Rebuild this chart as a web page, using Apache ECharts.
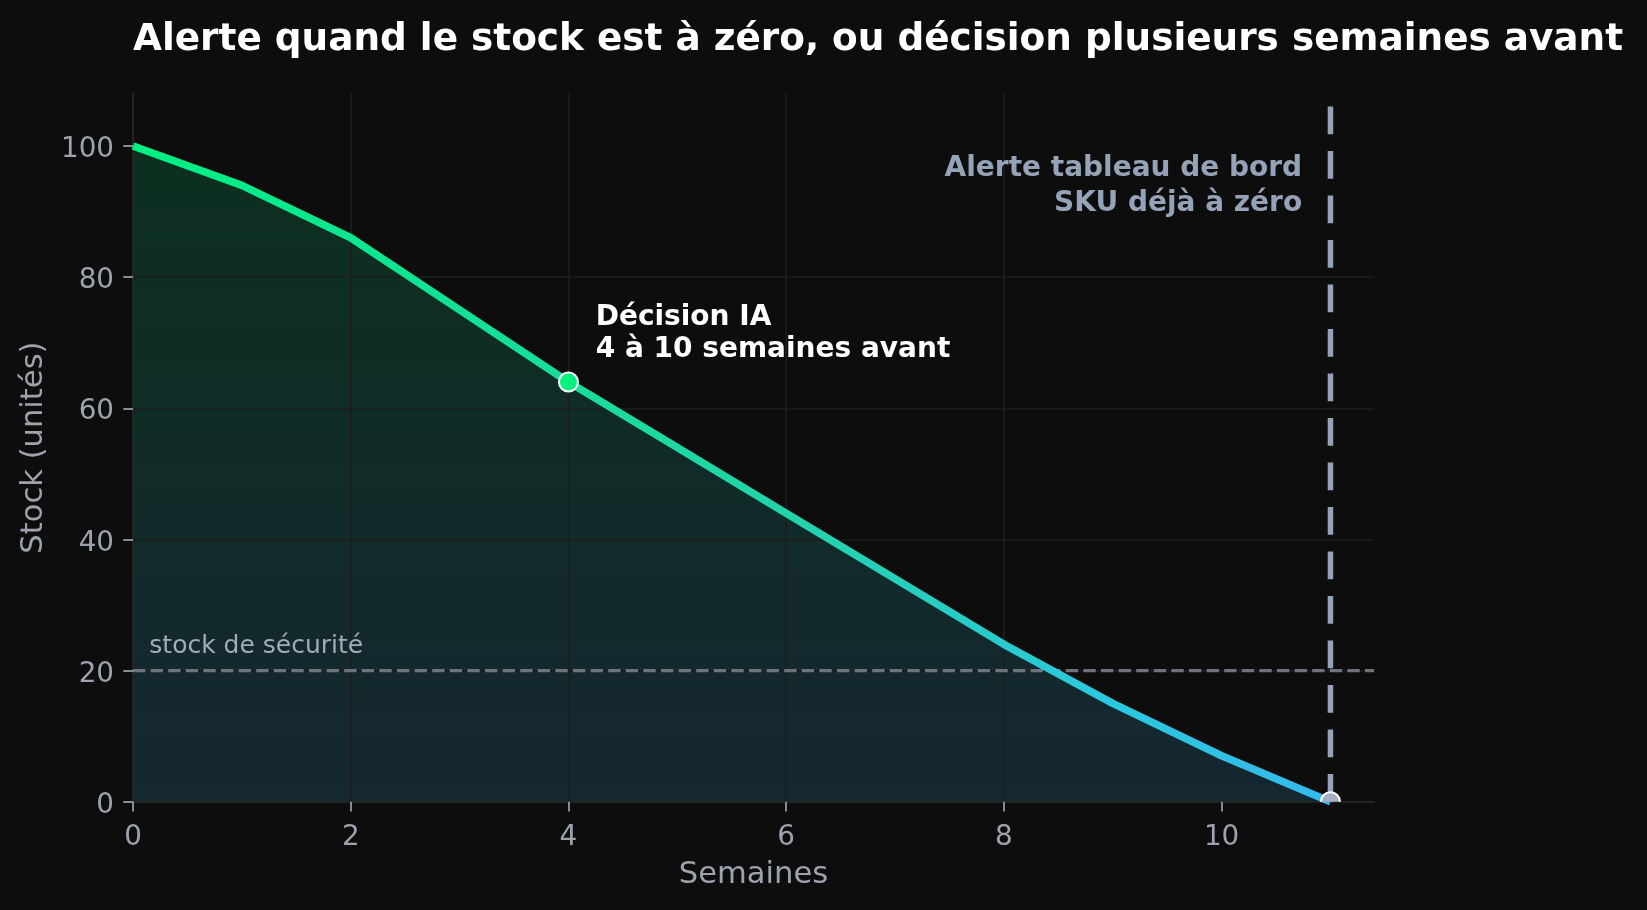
<!DOCTYPE html>
<html lang="fr">
<head>
    <meta charset="UTF-8">
    <title>Alerte stock</title>
    <script src="https://cdn.jsdelivr.net/npm/echarts@6/dist/echarts.min.js"></script>
    <style>
        *{
            margin: 0;
            padding: 0;
        }
        body{
            background: #0d0d0d;
        }
        .container{
            width: 1647px;
            height: 910px;
        }
    </style>
</head>
<body>
<div class="container"></div>
<script>
    // données
    const weeks = [0, 1, 2, 3, 4, 5, 6, 7, 8, 9, 10, 11];
    const stock = [100, 94, 86, 75, 64, 54, 44, 34, 24, 15, 7, 0];
    const xTicks = [0, 2, 4, 6, 8, 10];
    const yTicks = [0, 20, 40, 60, 80, 100];
    const safetyStock = 20;
    const alertWeek = 11;
    const markerWeeks = [4, 11];
    const markerStock = [64, 0];
    const annoX = [4.25, 10.74, 0.15];
    const annoY = [71.4, 93.8, 23.6];
    const annoText = [
        'Décision IA\n4 à 10 semaines avant',
        'Alerte tableau de bord\nSKU déjà à zéro',
        'stock de sécurité'
    ];

    const FONT = "'DejaVu Sans', 'Noto Sans', sans-serif";
    const labelColor = '#9ca3af';
    const gridColor = '#1e1e1e';
    const markerColors = ['#04f27d', '#a3aec2'];
    const annoStyles = [
        {fill: '#ffffff', fontSize: 28, fontWeight: 'bold', align: 'left', lineHeight: 31.5},
        {fill: '#94a3b8', fontSize: 28, fontWeight: 'bold', align: 'right', lineHeight: 35},
        {fill: '#a3abb5', fontSize: 25, fontWeight: 'normal', align: 'left', lineHeight: 25}
    ];

    let main = document.querySelector('.container');
    let mycharts = echarts.init(main, null, {renderer: 'canvas'});

    let points = weeks.map((w, i) => [w, stock[i]]);

    let axisCommon = {
        type: 'value',
        z: 2,
        axisLine: {show: true, onZero: true, lineStyle: {color: '#272727', width: 1.7}},
        axisTick: {show: true, inside: false, length: 9.7, lineStyle: {color: labelColor, width: 1.7}},
        splitLine: {show: true, showMaxLine: false, lineStyle: {color: gridColor, width: 1.7}},
        nameTextStyle: {color: labelColor, fontSize: 30.6, fontFamily: FONT}
    };

    let option = {
        backgroundColor: '#0d0d0d',
        animation: false,
        title: {
            text: 'Alerte quand le stock est à zéro, ou décision plusieurs semaines avant',
            left: 133,
            top: 22,
            padding: 0,
            textStyle: {color: '#ffffff', fontSize: 37.4, fontWeight: 'bold', fontFamily: FONT}
        },
        grid: {
            left: 133,
            right: 273,
            top: 93.5,
            bottom: 108.3,
            containLabel: false,
            outerBoundsMode: 'none'
        },
        xAxis: Object.assign({}, axisCommon, {
            min: 0,
            max: 11.4,
            interval: 2,
            name: 'Semaines',
            nameLocation: 'middle',
            nameGap: 58,
            axisLabel: {customValues: xTicks, color: labelColor, fontSize: 27.8, fontFamily: FONT, margin: 22},
            axisTick: Object.assign({}, axisCommon.axisTick, {customValues: xTicks})
        }),
        yAxis: Object.assign({}, axisCommon, {
            min: 0,
            max: 108,
            interval: 20,
            name: 'Stock (unités)',
            nameLocation: 'middle',
            nameGap: 82,
            axisLabel: {
                customValues: yTicks,
                margin: 19,
                formatter: v => '{v|' + v + '}',
                rich: {
                    v: {color: labelColor, fontSize: 27.8, fontFamily: FONT, padding: [8, 0, 0, 0]}
                }
            },
            axisTick: Object.assign({}, axisCommon.axisTick, {customValues: yTicks})
        }),
        series: [
            {
                // remplissage sous la courbe
                type: 'line',
                data: points,
                z: 1,
                symbol: 'none',
                clip: true,
                lineStyle: {width: 0, opacity: 0},
                areaStyle: {
                    opacity: 1,
                    color: new echarts.graphic.LinearGradient(0, 0, 0, 1, [
                        {offset: 0, color: '#0c2f1f'},
                        {offset: 1, color: '#152731'}
                    ])
                }
            },
            {
                // seuil de sécurité
                type: 'line',
                data: [[0, safetyStock], [11.4, safetyStock]],
                z: 3,
                symbol: 'none',
                clip: true,
                lineStyle: {color: '#6e747e', width: 3.3, type: [12.3, 5.3], cap: 'butt'}
            },
            {
                // courbe de stock
                type: 'line',
                data: points,
                z: 4,
                symbol: 'none',
                clip: true,
                lineStyle: {
                    width: 7.6,
                    join: 'round',
                    cap: 'butt',
                    color: new echarts.graphic.LinearGradient(0, 0, 1, 0, [
                        {offset: 0, color: '#00f082'},
                        {offset: 0.55, color: '#23d2aa'},
                        {offset: 0.8, color: '#2bc8dc'},
                        {offset: 1, color: '#35b9eb'}
                    ])
                }
            },
            {
                // alerte tableau de bord
                type: 'line',
                data: [[alertWeek, 0], [alertWeek, 108]],
                z: 5,
                symbol: 'none',
                clip: true,
                lineStyle: {color: '#94a3b8', width: 5.5, type: [27.8, 16.7], cap: 'butt'}
            },
            {
                type: 'custom',
                coordinateSystem: 'cartesian2d',
                z: 6,
                clip: true,
                data: markerWeeks.map((w, i) => [w, markerStock[i]]),
                renderItem: function (params, api) {
                    let p = api.coord([api.value(0), api.value(1)]);
                    return {
                        type: 'circle',
                        shape: {cx: p[0], cy: p[1], r: 9.5},
                        style: {fill: markerColors[params.dataIndex], stroke: '#ffffff', lineWidth: 2}
                    };
                }
            },
            {
                type: 'custom',
                coordinateSystem: 'cartesian2d',
                z: 7,
                clip: false,
                data: annoX.map((x, i) => [x, annoY[i]]),
                renderItem: function (params, api) {
                    let p = api.coord([api.value(0), api.value(1)]);
                    let s = annoStyles[params.dataIndex];
                    return {
                        type: 'text',
                        x: p[0],
                        y: p[1],
                        style: {
                            text: annoText[params.dataIndex],
                            fill: s.fill,
                            fontSize: s.fontSize,
                            fontWeight: s.fontWeight,
                            fontFamily: FONT,
                            align: s.align,
                            verticalAlign: 'middle',
                            lineHeight: s.lineHeight
                        }
                    };
                }
            }
        ]
    };

    mycharts.setOption(option);
</script>
</body>
</html>
